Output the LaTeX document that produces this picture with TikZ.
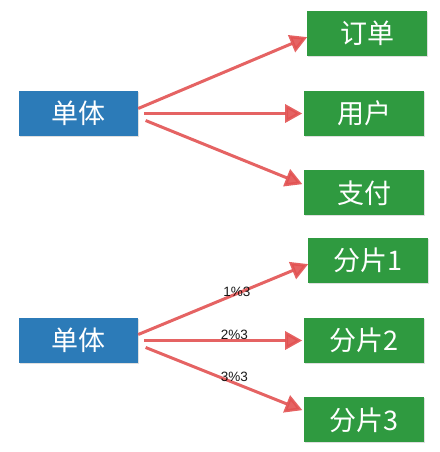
\documentclass[tikz,border=0pt]{standalone}
\usepackage{fontspec}
\setmainfont{Liberation Sans}
\newfontfamily\cjk{Noto Sans CJK SC}
\usepackage{tikz}
\usetikzlibrary{positioning,arrows.meta,shadows}
\usepackage{xcolor}
\definecolor{blue}{HTML}{2C7BB8}
\definecolor{green}{HTML}{2F9A40}
\definecolor{red}{HTML}{E25252}

\tikzset{
  mono/.style={fill=blue, minimum width=119pt, minimum height=45pt, inner sep=0pt,
    text=white, font=\cjk\fontsize{27}{32}\selectfont,
    drop shadow={opacity=0.25, shadow xshift=1pt, shadow yshift=-1pt}},
  service/.style={mono, fill=green, minimum width=120pt},
  link/.style={draw=red, line width=3pt, opacity=0.9, -{Triangle[length=17pt,width=18pt]}},
  rule/.style={font=\fontsize{13.5}{16}\selectfont, text=black, inner sep=0pt}
}

\begin{document}
\begin{tikzpicture}[x=1pt,y=-1pt]
\useasboundingbox (0,0) rectangle (439,452);
% TOP: monolith split by business
\node[mono] (mono1) at (78.5,113.5) {单体};
\node[service,right=166pt of mono1] (user) {用户};
\node[service,above=35pt of user,xshift=3pt] (order) {订单};
\node[service,below=34pt of user] (pay) {支付};
\draw[link] ([yshift=5pt]mono1.east) -- ([yshift=-4pt]order.west);
\draw[link,shorten <=6pt,shorten >=2pt] (mono1.east) -- (user.west);
\draw[link,shorten <=8pt,shorten >=2pt] ([yshift=-4pt]mono1.east) -- ([yshift=8pt]pay.west);
% BOTTOM: monolith split into shards
\node[mono] (mono2) at (78.5,340.5) {单体};
\node[service,right=166pt of mono2] (shard2) {分片2};
\node[service,above=35pt of shard2,xshift=4pt] (shard1) {分片1};
\node[service,below=34pt of shard2] (shard3) {分片3};
\draw[link] ([yshift=6pt]mono2.east) -- ([yshift=-4pt]shard1.west)
  node[rule,pos=0.58,yshift=2pt] {1\%3};
\draw[link,shorten <=6pt,shorten >=2pt] (mono2.east) -- (shard2.west)
  node[rule,pos=0.58,yshift=6pt] {2\%3};
\draw[link,shorten <=8pt,shorten >=2pt] ([yshift=-4pt]mono2.east) -- ([yshift=9pt]shard3.west)
  node[rule,pos=0.58,yshift=6pt] {3\%3};
\end{tikzpicture}
\end{document}
